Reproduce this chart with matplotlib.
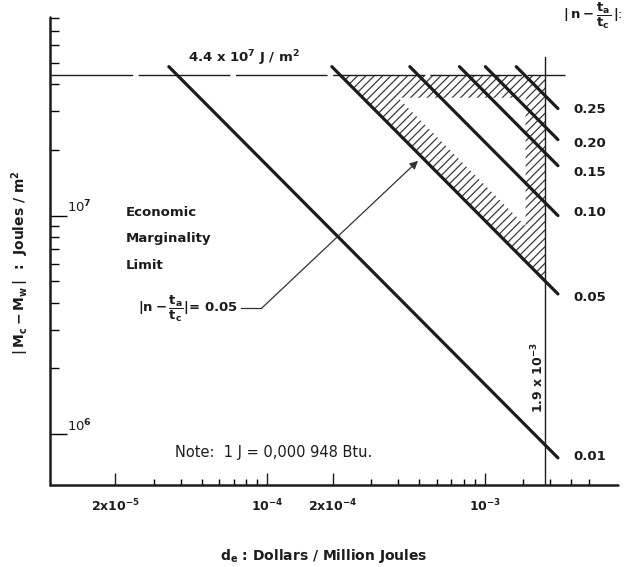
import matplotlib
matplotlib.use("Agg")
import matplotlib.pyplot as plt
from matplotlib.path import Path
from matplotlib.patches import PathPatch
from matplotlib.ticker import FixedLocator, NullFormatter

plt.rcParams['font.family'] = ['DejaVu Sans']
plt.rcParams['mathtext.fontset'] = 'custom'
plt.rcParams['mathtext.rm'] = 'DejaVu Sans:bold'
plt.rcParams['mathtext.it'] = 'DejaVu Sans:bold'
plt.rcParams['mathtext.bf'] = 'DejaVu Sans:bold'
plt.rcParams['hatch.linewidth'] = 0.9

INK = '#1c1c1c'

# |n - ta/tc| values and the constant M*de along each line
ratio_labels = ['0.01', '0.05', '0.10', '0.15', '0.20', '0.25']
line_const = [1.69e3, 9.5e3, 2.17e4, 3.67e4, 4.83e4, 6.7e4]
label_dy = [0.7, -2.2, 2.2, -5.0, -2.9, -0.7]  # points, nudges label off the line end
line_top = 4.8e7      # J/m^2 where every line starts
line_end = 2.17e-3    # $/MJ where every line stops

m_limit = 4.4e7       # J/m^2, horizontal limit
de_limit = 1.9e-3     # $/MJ, vertical limit

# inner (unshaded) triangle of the marginality band
inner_top = 3.46e7
inner_right = 1.54e-3
inner_const = 1.38e4

x_major = [2e-5, 1e-4, 2e-4, 1e-3]
x_major_labels = ['2x10$^{-5}$', '10$^{-4}$', '2x10$^{-4}$', '10$^{-3}$']
x_minor = [3e-5, 4e-5, 5e-5, 6e-5, 7e-5, 8e-5, 9e-5,
           3e-4, 4e-4, 5e-4, 6e-4, 7e-4, 8e-4, 9e-4,
           1.5e-3, 2e-3, 2.5e-3, 3e-3]
y_major = [1e6, 1e7]
y_major_labels = ['10$^{6}$', '10$^{7}$']
y_minor = [2e6, 3e6, 4e6, 5e6, 6e6, 7e6, 8e6, 9e6,
           2e7, 3e7, 4e7, 5e7, 6e7, 7e7, 8e7]

fig = plt.figure(figsize=(6.32, 5.67), dpi=100)
ax = fig.add_axes([50 / 632, 82 / 567, 568 / 632, 468 / 567])
ax.set_xscale('log')
ax.set_yscale('log')
ax.set_xlim(1.0e-5, 4.1e-3)
ax.set_ylim(5.85e5, 8.1e7)

for s in ['top', 'right']:
    ax.spines[s].set_visible(False)
for s in ['left', 'bottom']:
    ax.spines[s].set_linewidth(1.8)
    ax.spines[s].set_color(INK)
    ax.spines[s].set_capstyle('round')

# shaded band between the limits and the 0.05 line
c05 = line_const[1]
outer = [(c05 / m_limit, m_limit), (de_limit, m_limit), (de_limit, c05 / de_limit),
         (c05 / m_limit, m_limit)]
inner = [(inner_const / inner_top, inner_top), (inner_right, inner_const / inner_right),
         (inner_right, inner_top), (inner_const / inner_top, inner_top)]
verts = outer + inner
codes = ([Path.MOVETO] + [Path.LINETO] * 2 + [Path.CLOSEPOLY]) * 2
band = PathPatch(Path(verts, codes), facecolor='none', edgecolor='#3a3a3a',
                 linewidth=0, hatch='////', zorder=1)
ax.add_patch(band)

# limit lines
ax.plot([1.0e-5, 2.33e-3], [m_limit, m_limit], color=INK, lw=1.0,
        linestyle=(6.5, (66, 4)), zorder=2)
ax.plot([de_limit, de_limit], [5.85e5, 5.3e7], color=INK, lw=1.0, zorder=2)

# constant lines
for lab, c, dy in zip(ratio_labels, line_const, label_dy):
    ax.plot([c / line_top, line_end], [line_top, c / line_end], color=INK,
            lw=2.3, solid_capstyle='round', zorder=3)
    ax.annotate(lab, xy=(line_end, c / line_end), xytext=(11, dy),
                textcoords='offset points', ha='left', va='center',
                fontsize=9.5, fontweight='bold', color=INK)

# ticks
ax.xaxis.set_major_locator(FixedLocator(x_major))
ax.set_xticklabels(x_major_labels, fontweight='bold')
ax.xaxis.set_minor_locator(FixedLocator(x_minor))
ax.xaxis.set_minor_formatter(NullFormatter())
ax.yaxis.set_major_locator(FixedLocator(y_major))
ax.yaxis.set_major_formatter(NullFormatter())
ax.yaxis.set_minor_locator(FixedLocator(y_minor))
ax.yaxis.set_minor_formatter(NullFormatter())
ax.tick_params(axis='x', which='major', direction='in', length=8.5, width=1.0,
               pad=9, labelsize=9, colors=INK)
ax.tick_params(axis='x', which='minor', direction='in', length=4.5, width=1.0)
ax.tick_params(axis='y', which='major', direction='in', length=12, width=1.0)
ax.tick_params(axis='y', which='minor', direction='in', length=6.5, width=1.0)
for v, lab in zip(y_major, y_major_labels):
    ax.text(0.03, v, lab, transform=ax.get_yaxis_transform(), ha='left',
            va='bottom', fontsize=9.5, color=INK)

ax.set_xlabel('d$_{e}$ : Dollars / Million Joules', fontsize=10,
              fontweight='bold', color=INK, va='center')
ax.xaxis.set_label_coords(0.482, -0.152)
ax.set_ylabel('$|\\,M_{c} - M_{w}\\,|$  :  Joules / m$^{2}$', fontsize=10,
              fontweight='bold', color=INK, va='center')
ax.yaxis.set_label_coords(-0.053, 0.476)

# annotations
ax.text(4.3e-5, 5.26e7, '4.4 x 10$^{7}$ J / m$^{2}$', fontsize=9.5,
        fontweight='bold', ha='left', va='center', color=INK)
ax.text(1.75e-3, 1.82e6, '1.9 x 10$^{-3}$', rotation=90, fontsize=9,
        fontweight='bold', ha='center', va='center', color=INK)
for txt, yv in zip(['Economic', 'Marginality', 'Limit'], [1.03e7, 7.85e6, 5.9e6]):
    ax.text(2.23e-5, yv, txt, fontsize=9.5, fontweight='bold', ha='left',
            va='center', color=INK)
ax.text(7.3e-5, 3.76e6, '$|n-\\dfrac{t_a}{t_c}|$= 0.05', fontsize=9.5,
        fontweight='bold', ha='right', va='center', color=INK)
ax.plot([7.6e-5, 9.39e-5], [3.76e6, 3.76e6], color='#333', lw=0.9)
ax.annotate('', xy=(4.93e-4, 1.78e7), xytext=(9.39e-5, 3.76e6),
            arrowprops=dict(arrowstyle='-|>', lw=0.9, color='#333',
                            mutation_scale=12, shrinkA=0, shrinkB=0))
ax.text(3.74e-5, 8.28e5, 'Note:  1 J = 0,000 948 Btu.', fontsize=10.5,
        ha='left', va='center', color=INK)
fig.text(563 / 632, 1 - 16 / 567, '$|\\,n-\\dfrac{t_a}{t_c}\\,|$:', fontsize=9.5,
         ha='left', va='center', color=INK)

fig.savefig('out.png', dpi=100, facecolor='white')
